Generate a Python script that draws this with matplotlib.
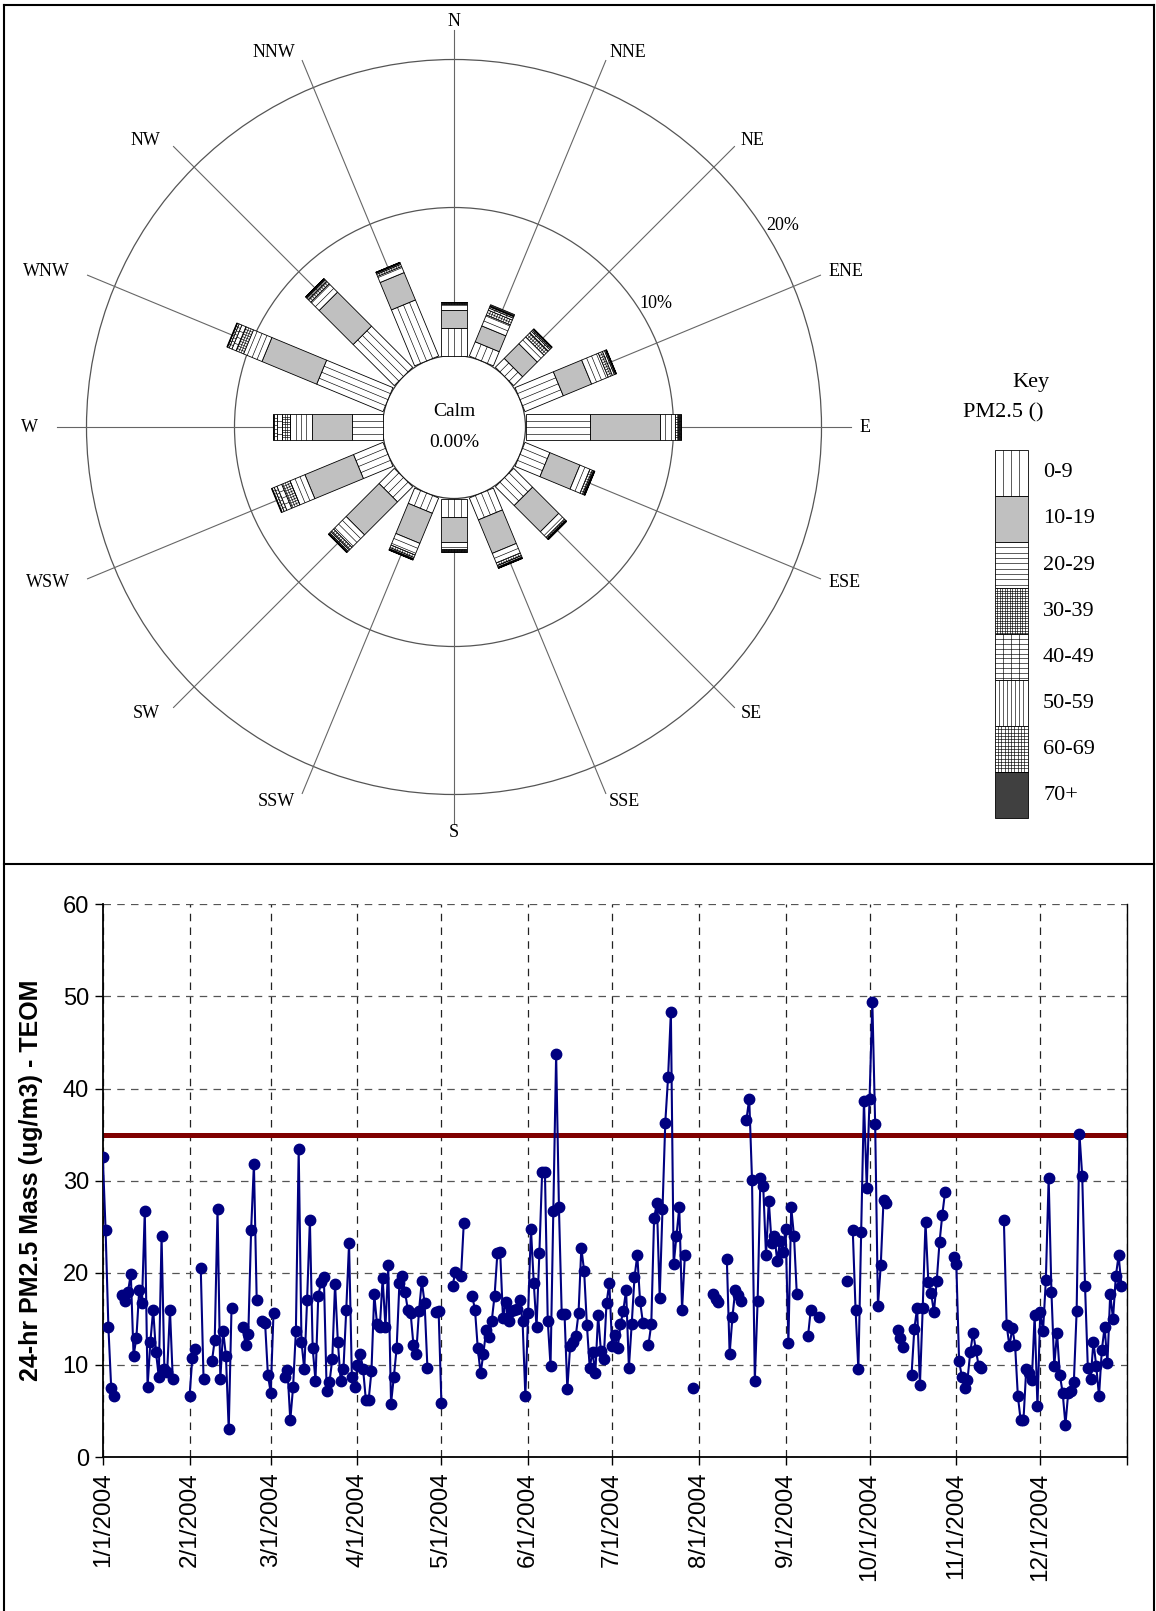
import numpy as np
import matplotlib.pyplot as plt
from matplotlib.patches import Polygon, Circle
from matplotlib.collections import LineCollection
from matplotlib.lines import Line2D

# wind rose: percent of hours from each direction, split by PM2.5 bin
directions = ['N', 'NNE', 'NE', 'ENE', 'E', 'ESE', 'SE', 'SSE',
              'S', 'SSW', 'SW', 'WSW', 'W', 'WNW', 'NW', 'NNW']
bin_labels = ['0-9', '10-19', '20-29', '30-39', '40-49', '50-59', '60-69', '70+']
pm_0_9   = [1.84, 1.04, 0.85, 2.80, 4.36, 1.82, 1.80, 1.60, 1.23, 1.12, 1.45, 2.16, 2.08, 4.85, 3.93, 4.10]
pm_10_19 = [1.23, 1.16, 1.40, 2.07, 4.73, 2.20, 2.50, 2.45, 1.70, 2.20, 3.15, 3.55, 2.71, 4.00, 3.25, 2.00]
pm_20_29 = [0.41, 0.80, 0.65, 1.22, 1.00, 0.73, 0.55, 0.70, 0.45, 0.85, 1.20, 1.10, 1.46, 1.35, 0.80, 0.45]
pm_30_39 = [0.08, 0.35, 0.40, 0.30, 0.20, 0.18, 0.10, 0.20, 0.10, 0.18, 0.25, 0.60, 0.55, 0.55, 0.25, 0.15]
pm_40_49 = [0.04, 0.15, 0.15, 0.15, 0.10, 0.08, 0.05, 0.10, 0.05, 0.09, 0.12, 0.35, 0.30, 0.30, 0.12, 0.08]
pm_50_59 = [0.02, 0.10, 0.10, 0.08, 0.08, 0.05, 0.03, 0.05, 0.04, 0.05, 0.07, 0.20, 0.20, 0.20, 0.07, 0.04]
pm_60_69 = [0.01, 0.05, 0.08, 0.05, 0.05, 0.03, 0.02, 0.03, 0.02, 0.03, 0.04, 0.15, 0.10, 0.12, 0.04, 0.02]
pm_70up  = [0.01, 0.10, 0.05, 0.02, 0.02, 0.02, 0.01, 0.02, 0.01, 0.02, 0.02, 0.05, 0.02, 0.05, 0.02, 0.01]
rose_bins = [pm_0_9, pm_10_19, pm_20_29, pm_30_39, pm_40_49, pm_50_59, pm_60_69, pm_70up]

# daily 24-hr PM2.5 (TEOM) for 2004, one list per month, None = no data
jan = [32.6, 24.6, 14.1, 7.5, 6.6, None, None, 17.6, 16.9, 17.9, 19.9, 11.0, 12.9, 18.1, 16.7, 26.7,
       7.6, 12.5, 16.0, 11.4, 8.7, 24.0, 9.6, 9.2, 16.0, 8.5, None, None, None, None, None]
feb = [6.6, 10.8, 11.7, None, 20.5, 8.5, None, None, 10.4, 12.7, 26.9, 8.5, 13.7, 11.0, 3.0, 16.2,
       None, None, None, 14.1, 12.2, 13.4, 24.6, 31.8, 17.0, None, 14.8, 14.5, 8.9]
mar = [7.0, 15.6, None, None, None, 8.7, 9.4, 4.0, 7.6, 13.7, 33.4, 12.5, 9.5, 17.0, 25.7, 11.8,
       8.3, 17.5, 19.0, 19.5, 7.2, 8.1, 10.6, 18.8, 12.5, 8.3, 9.6, 16.0, 23.2, 8.7, 7.6]
apr = [10.0, 11.2, 9.6, 6.2, 6.2, 9.3, 17.7, 14.4, 14.1, 19.4, 14.1, 20.8, 5.8, 8.7, 11.8, 18.9,
       19.6, 17.9, 16.0, 15.6, 12.2, 11.2, 15.9, 19.1, 16.7, 9.7, None, None, 15.7, 15.9]
may = [5.9, None, None, None, 18.6, 20.1, None, 19.6, 25.4, None, None, 17.5, 16.0, 11.8, 9.1, 11.2,
       13.8, 13.0, 14.8, 17.5, 22.1, 22.3, 15.1, 16.8, 14.8, 15.9, 16.0, 16.1, 17.0, 14.8, 6.6]
jun = [15.6, 24.8, 18.9, 14.1, 22.1, 30.9, 30.9, 14.8, 9.9, 26.7, 43.7, 27.1, 15.5, 15.5, 7.4, 12.0,
       12.5, 13.1, 15.6, 22.7, 20.2, 14.3, 9.7, 11.4, 9.1, 15.4, 11.5, 10.6, 16.7, 18.9]
jul = [12.1, 13.2, 11.8, 14.4, 15.9, 18.1, 9.7, 14.4, 19.5, 21.9, 16.9, 14.6, None, 12.2, 14.4, 25.9,
       27.6, 17.3, 26.9, 36.3, 41.2, 48.3, 20.9, 24.0, 27.1, 16.0, 21.9, None, None, 7.5, None]
aug = [None, None, None, None, None, 17.7, 17.2, 16.8, None, None, 21.5, 11.2, 15.2, 18.1, 17.6, 16.9,
       None, 36.6, 38.9, 30.1, 8.3, 16.9, 30.3, 29.4, 21.9, 27.8, 23.2, 24.0, 21.3, 23.4, 22.3]
sep = [24.8, 12.4, 27.1, 24.0, 17.7, None, None, None, 13.1, 16.0, None, None, 15.2, None, None, None,
       None, None, None, None, None, None, 19.1, None, 24.6, 16.0, 9.5, 24.4, 38.7, 29.2]
oct = [38.9, 49.4, 36.2, 16.4, 20.8, 27.9, 27.6, None, None, None, 13.8, 12.9, 11.9, None, None, 8.9,
       13.9, 16.2, 7.8, 16.2, 25.5, 19.0, 17.8, 15.7, 19.1, 23.3, 26.3, 28.8, None, None, 21.7]
nov = [21.0, 10.4, 8.7, 7.5, 8.4, 11.4, 13.5, 11.6, 9.9, 9.7, None, None, None, None, None, None,
       None, 25.7, 14.3, 12.0, 14.0, 12.2, 6.6, 4.0, 4.0, 9.6, 9.1, 8.4, 15.4, 5.5]
dec = [15.7, 13.7, 19.2, 30.3, 17.9, 9.9, 13.5, 8.9, 7.0, 3.5, 7.0, 7.2, 8.1, 15.8, 35.1, 30.5,
       18.6, 9.7, 8.5, 12.5, 9.9, 6.6, 11.6, 14.1, 10.2, 17.7, 15.0, 19.6, 21.9, 18.6, None]
standard = 35
month_labels = ['%d/1/2004' % m for m in range(1, 13)]

W, H = 1156, 1611
fig = plt.figure(figsize=(W / 100, H / 100), dpi=100)
serif = 'Liberation Serif'

# ---------------- wind rose ----------------
PX = 14.8            # pixels per percent
cx, cy = 454, 427    # rose centre (pixels from top-left)
top_h = 864
R0 = 71.5 / PX       # calm circle
HW = 13 / PX         # half width of a petal

ax_r = fig.add_axes([0, 1 - top_h / H, 1, top_h / H])
ax_r.set_xlim(-cx / PX, (W - cx) / PX)
ax_r.set_ylim(-(top_h - cy) / PX, cy / PX)
ax_r.axis('off')

# (face, spacing of lines along the petal, spacing of lines across it)
styles = [('white', 0.5, None), ('#c0c0c0', None, None), ('white', None, 0.36),
          ('white', 0.17, 0.17), ('white', 0.5, 0.33), ('white', 0.27, None),
          ('white', 0.22, 0.22), ('#404040', None, None)]


def segment(ax, base, ang, r0, r1, hw, style):
    face, par, perp = style
    u = np.array([np.cos(ang), np.sin(ang)])
    v = np.array([-u[1], u[0]])
    b = np.asarray(base, float)
    pts = [b + r0 * u - hw * v, b + r1 * u - hw * v, b + r1 * u + hw * v, b + r0 * u + hw * v]
    ax.add_patch(Polygon(pts, closed=True, fc=face, ec='black', lw=0.6, zorder=3))
    segs = []
    if par:
        n = max(2, int(round(2 * hw / par)))
        for k in range(1, n):
            o = -hw + 2 * hw * k / n
            segs.append([b + r0 * u + o * v, b + r1 * u + o * v])
    if perp:
        for r in np.arange(r0 + perp, r1 - 0.02, perp):
            segs.append([b + r * u - hw * v, b + r * u + hw * v])
    if segs:
        ax.add_collection(LineCollection(segs, colors='black', linewidths=0.45, zorder=4))


for pct in (10, 20):
    ax_r.add_patch(Circle((0, 0), R0 + pct, fill=False, ec='#555555', lw=0.9, zorder=1))
ax_r.add_patch(Circle((0, 0), R0, fill=False, ec='#333333', lw=0.9, zorder=1))

for i, name in enumerate(directions):
    ang = np.deg2rad(90 - 22.5 * i)
    c, s = np.cos(ang), np.sin(ang)
    ax_r.plot([R0 * c, 26.8 * c], [R0 * s, 26.8 * s], color='#666666', lw=0.8, zorder=1)
    r = R0
    for b, vals in enumerate(rose_bins):
        segment(ax_r, (0, 0), ang, r, r + vals[i], HW, styles[b])
        r += vals[i]
    if abs(c) < 0.01:
        ax_r.text(0, 27.4 * s, name, ha='center', va='center', family=serif, fontsize=13)
    elif c > 0:
        ax_r.text(27.4 * c, 27.4 * s, name, ha='left', va='center', family=serif, fontsize=13)
    else:
        ax_r.text(28.1 * c, 27.4 * s, name, ha='right', va='center', family=serif, fontsize=13)

for pct in (10, 20):
    a = np.deg2rad(31.5)
    rr = R0 + pct + 1.2
    ax_r.text(rr * np.cos(a), rr * np.sin(a), '%d%%' % pct, ha='center', va='center',
              family=serif, fontsize=13)

ax_r.text(0, 1.05, 'Calm', ha='center', va='center', family=serif, fontsize=14)
ax_r.text(0, -1.05, '0.00%', ha='center', va='center', family=serif, fontsize=14)

# key
key_x, key_top, key_step, key_hw = 37.64, -1.55, 3.11, 1.11
ax_r.text(38.97, 3.02, 'Key', ha='center', va='center', family=serif, fontsize=16)
ax_r.text(37.1, 0.95, 'PM2.5 ()', ha='center', va='center', family=serif, fontsize=16)
for b, lab in enumerate(bin_labels):
    segment(ax_r, (key_x, key_top), -np.pi / 2, b * key_step, (b + 1) * key_step, key_hw, styles[b])
    ax_r.text(39.8, key_top - (b + 0.5) * key_step, lab, ha='left', va='center',
              family=serif, fontsize=16)

# ---------------- time series ----------------
pm = np.array(jan + feb + mar + apr + may + jun + jul + aug + sep + oct + nov + dec, dtype=float)
days = np.arange(np.datetime64('2004-01-01'), np.datetime64('2005-01-01'))
assert len(pm) == len(days)

x0, x1, y0, y1 = 102.8, 1127, 904.3, 1457
ax = fig.add_axes([x0 / W, 1 - y1 / H, (x1 - x0) / W, (y1 - y0) / H])
ax.plot(days, pm, color='#000080', lw=1.5, marker='o', ms=7.5, zorder=3)
ax.axhline(standard, color='#800000', lw=3.6, zorder=2)

ticks = np.arange(np.datetime64('2004-01'), np.datetime64('2005-02'), dtype='datetime64[M]').astype('datetime64[D]')
ax.set_xlim(days[0], np.datetime64('2005-01-01'))
ax.set_xticks(ticks)
ax.set_xticklabels(month_labels + [''], rotation=90, family='Liberation Sans', fontsize=17.5)
ax.set_ylim(0, 60)
ax.set_yticks(range(0, 61, 10))
ax.set_yticklabels([str(v) for v in range(0, 61, 10)], family='Liberation Sans', fontsize=17)
ax.tick_params(axis='both', direction='out', length=6, width=1)
ax.tick_params(axis='x', pad=5)
ax.tick_params(axis='y', pad=4)
ax.xaxis.grid(True, color='#222222', lw=0.9, ls=(0, (6, 5)))
ax.yaxis.grid(True, color='#555555', lw=0.9, ls=(0, (6, 5)))
ax.set_axisbelow(True)
ax.spines['top'].set_visible(False)
ax.spines['left'].set_linewidth(1.3)
ax.spines['bottom'].set_linewidth(1.3)
ax.spines['right'].set_linewidth(1.0)

fig.text(31 / W, 1 - (y0 + y1) / 2 / H, '24-hr PM2.5 Mass (ug/m3) - TEOM', rotation=90,
         ha='center', va='center', family='Liberation Sans', fontsize=18, fontweight='bold')

# outer frame and divider
for xs, ys in [([4, 4], [5, H]), ([1154, 1154], [5, H]), ([4, 1154], [5, 5]), ([4, 1154], [top_h, top_h])]:
    fig.add_artist(Line2D([v / W for v in xs], [1 - v / H for v in ys], color='black', lw=1.5))

fig.savefig('out.png', dpi=100)
